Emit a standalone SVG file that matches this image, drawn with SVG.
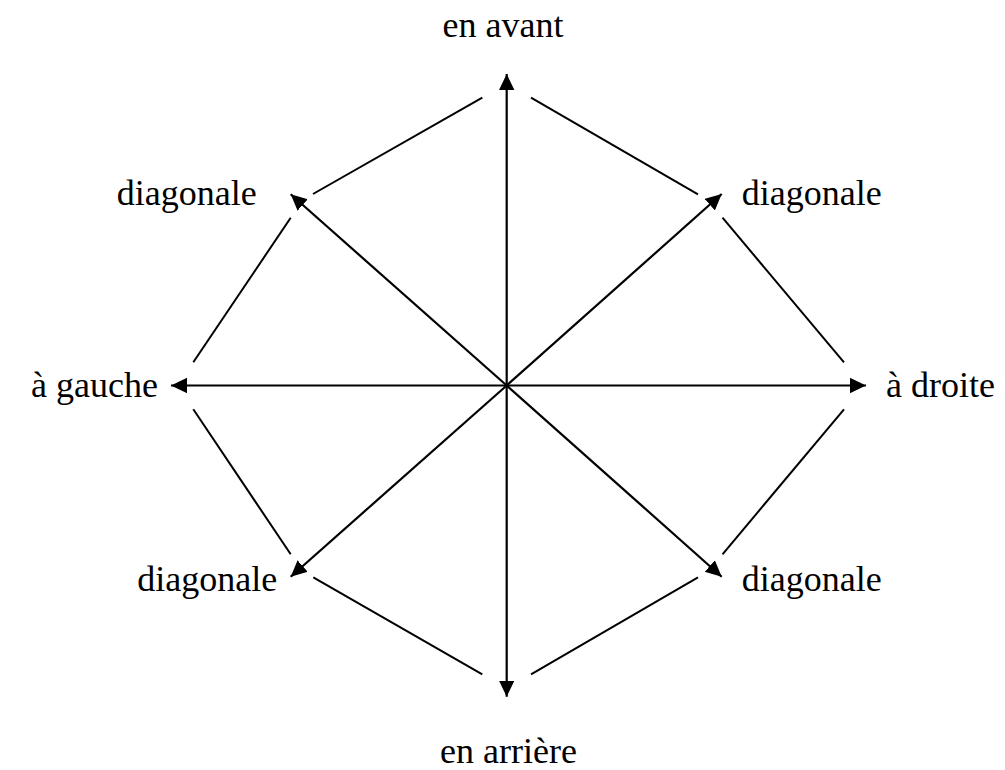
<svg xmlns="http://www.w3.org/2000/svg" width="1005" height="770" viewBox="0 0 1005 770">
<style>
.lbl{font-family:"Liberation Serif","Times New Roman",serif;font-size:36px;fill:#000}
.arr{stroke:#000;stroke-width:2.2;fill:none;marker-end:url(#ah)}
.edge{stroke:#000;stroke-width:2;fill:none}
</style>
<defs>
<marker id="ah" markerUnits="userSpaceOnUse" markerWidth="17" markerHeight="16" refX="16" refY="7.7" orient="auto">
<path d="M0,0 L16,7.7 L0,15.4 z" fill="#000"/>
</marker>
</defs>
<rect width="1005" height="770" fill="#fff"/>
<g id="connectors">
<line class="arr" x1="506.7" y1="385.5" x2="506.7" y2="74"/>
<line class="arr" x1="506.7" y1="385.5" x2="506.7" y2="696.7"/>
<line class="arr" x1="506.7" y1="385.5" x2="171" y2="385.5"/>
<line class="arr" x1="506.7" y1="385.5" x2="866" y2="385.5"/>
<line class="arr" x1="506.7" y1="385.5" x2="290.7" y2="194.3"/>
<line class="arr" x1="506.7" y1="385.5" x2="721.7" y2="194"/>
<line class="arr" x1="506.7" y1="385.5" x2="290.7" y2="576.7"/>
<line class="arr" x1="506.7" y1="385.5" x2="721.7" y2="576.7"/>
<line class="edge" x1="482.3" y1="97.7" x2="313" y2="194"/>
<line class="edge" x1="290.7" y1="217.7" x2="193.3" y2="362.3"/>
<line class="edge" x1="193.3" y1="409.3" x2="290.7" y2="554.3"/>
<line class="edge" x1="313.3" y1="577.3" x2="482.3" y2="674.3"/>
<line class="edge" x1="531" y1="97.7" x2="698" y2="194.3"/>
<line class="edge" x1="722.5" y1="217.7" x2="844" y2="362.3"/>
<line class="edge" x1="844" y1="409.3" x2="722.5" y2="554.3"/>
<line class="edge" x1="698" y1="577.3" x2="531" y2="674.3"/>
</g>
<g id="en-avant"><text class="lbl" x="503" y="36.7" text-anchor="middle">en avant</text></g>
<g id="diag-tl"><text class="lbl" x="256.7" y="205" text-anchor="end">diagonale</text></g>
<g id="diag-tr"><text class="lbl" x="741.7" y="205">diagonale</text></g>
<g id="a-gauche"><text class="lbl" x="158" y="397" text-anchor="end">à gauche</text></g>
<g id="a-droite"><text class="lbl" x="886" y="397">à droite</text></g>
<g id="diag-bl"><text class="lbl" x="277.3" y="591" text-anchor="end">diagonale</text></g>
<g id="diag-br"><text class="lbl" x="741.7" y="591">diagonale</text></g>
<g id="en-arriere"><text class="lbl" x="508.5" y="763" text-anchor="middle">en arrière</text></g>
</svg>
